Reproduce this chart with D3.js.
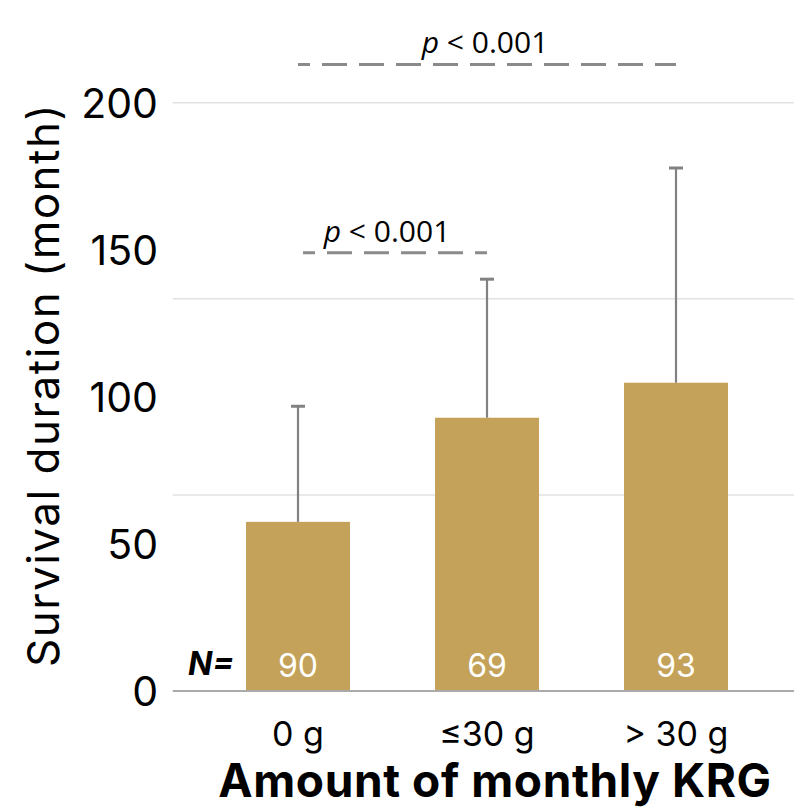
<!DOCTYPE html>
<html><head><meta charset="utf-8">
<script src="https://cdn.jsdelivr.net/npm/d3@7"></script>
<style>
html,body{margin:0;padding:0;background:#fff;}
svg{display:block;}
</style></head>
<body>
<svg id="chart" width="794" height="809"></svg>
<script>
const categories = ["0 g", "≤30 g", "> 30 g"];
const means = [57.5, 92.9, 104.8];
const errors = [39.3, 47.1, 73.0];
const counts = [90, 69, 93];
const yTicks = [0, 50, 100, 150, 200];
const gridValues = [200/3, 400/3, 200];
const sigFrom = [0, 0];
const sigTo = [1, 2];
const sigLevel = [149, 213];
const sigLabel = ["< 0.001", "< 0.001"];

const svg = d3.select("#chart");
const y = d3.scaleLinear().domain([0, 200]).range([691, 102.7]);
const x = d3.scaleBand().domain(categories).range([203.5, 770.5]).paddingInner(0.45).paddingOuter(0.225);
const cx = c => x(c) + x.bandwidth() / 2;

// gridlines
svg.append("g").selectAll("line").data(gridValues).join("line")
  .attr("x1", 172.7).attr("x2", 794)
  .attr("y1", d => y(d)).attr("y2", d => y(d))
  .attr("stroke", "#e2e2e2").attr("stroke-width", 1.5);

// y axis labels
const yAxis = svg.append("g").attr("transform", "translate(158,0)")
  .call(d3.axisLeft(y).tickValues(yTicks).tickSize(0).tickPadding(0).tickFormat(d3.format("d")));
yAxis.select(".domain").remove();
yAxis.selectAll("text").attr("font-family", "Inter").attr("font-size", 41).attr("fill", "#000").attr("dy", "0.36em");

// bars
svg.append("g").selectAll("rect").data(categories).join("rect")
  .attr("x", d => x(d)).attr("width", x.bandwidth())
  .attr("y", (d, i) => y(means[i])).attr("height", (d, i) => y(0) - y(means[i]))
  .attr("fill", "#c4a259");

// error bars
const eb = svg.append("g").attr("stroke", "#828282");
eb.selectAll("line.v").data(categories).join("line").attr("class", "v")
  .attr("x1", d => cx(d)).attr("x2", d => cx(d))
  .attr("y1", (d, i) => y(means[i])).attr("y2", (d, i) => y(means[i] + errors[i]))
  .attr("stroke-width", 2.2);
eb.selectAll("line.c").data(categories).join("line").attr("class", "c")
  .attr("x1", d => cx(d) - 7).attr("x2", d => cx(d) + 7)
  .attr("y1", (d, i) => y(means[i] + errors[i])).attr("y2", (d, i) => y(means[i] + errors[i]))
  .attr("stroke-width", 3);

// baseline
svg.append("line").attr("x1", 172.7).attr("x2", 794).attr("y1", y(0)).attr("y2", y(0))
  .attr("stroke", "#aaaaaa").attr("stroke-width", 2);

// N labels
svg.append("g").selectAll("text").data(categories).join("text")
  .attr("x", d => cx(d)).attr("y", 677)
  .attr("text-anchor", "middle").attr("font-family", "Inter").attr("font-size", 32)
  .attr("fill", "#fff").text((d, i) => counts[i]);
svg.append("text").attr("x", 234).attr("y", 675).attr("text-anchor", "end")
  .attr("font-family", "Inter").attr("font-size", 32).attr("font-weight", "bold").attr("font-style", "italic")
  .text("N=");

// x axis labels
const xAxis = svg.append("g").attr("transform", `translate(0,${y(0)})`)
  .call(d3.axisBottom(x).tickSize(0).tickPadding(0));
xAxis.select(".domain").remove();
xAxis.selectAll("text").attr("font-family", "Inter").attr("font-size", 34).attr("fill", "#000")
  .attr("dy", null).attr("y", 55);

// axis titles
svg.append("text").attr("x", 495).attr("y", 797).attr("text-anchor", "middle")
  .attr("font-family", "Inter").attr("font-weight", "bold").attr("font-size", 46)
  .attr("letter-spacing", 0.6)
  .text("Amount of monthly KRG");
svg.append("text").attr("transform", "translate(59,385) rotate(-90)").attr("text-anchor", "middle")
  .attr("font-family", "Inter").attr("font-size", 44).attr("letter-spacing", 1.5)
  .text("Survival duration (month)");

// significance
const sig = svg.append("g");
sigFrom.forEach((f, i) => {
  const x1 = cx(categories[f]) + (i === 0 ? 5 : 0), x2 = cx(categories[sigTo[i]]);
  const yy = y(sigLevel[i]);
  sig.append("line").attr("x1", x1).attr("x2", x2).attr("y1", yy).attr("y2", yy)
    .attr("stroke", "#8a8a8a").attr("stroke-width", 3)
    .attr("stroke-dasharray", "25 12").attr("stroke-dashoffset", 13);
  const t = sig.append("text").attr("x", (x1 + x2) / 2 - (i === 0 ? 8 : 2)).attr("y", yy - 11)
    .attr("text-anchor", "middle").attr("font-family", "Open Sans").attr("font-size", 30).attr("fill", "#000");
  t.append("tspan").attr("font-style", "italic").text("p");
  t.append("tspan").text(" " + sigLabel[i]);
});
</script>
</body></html>
